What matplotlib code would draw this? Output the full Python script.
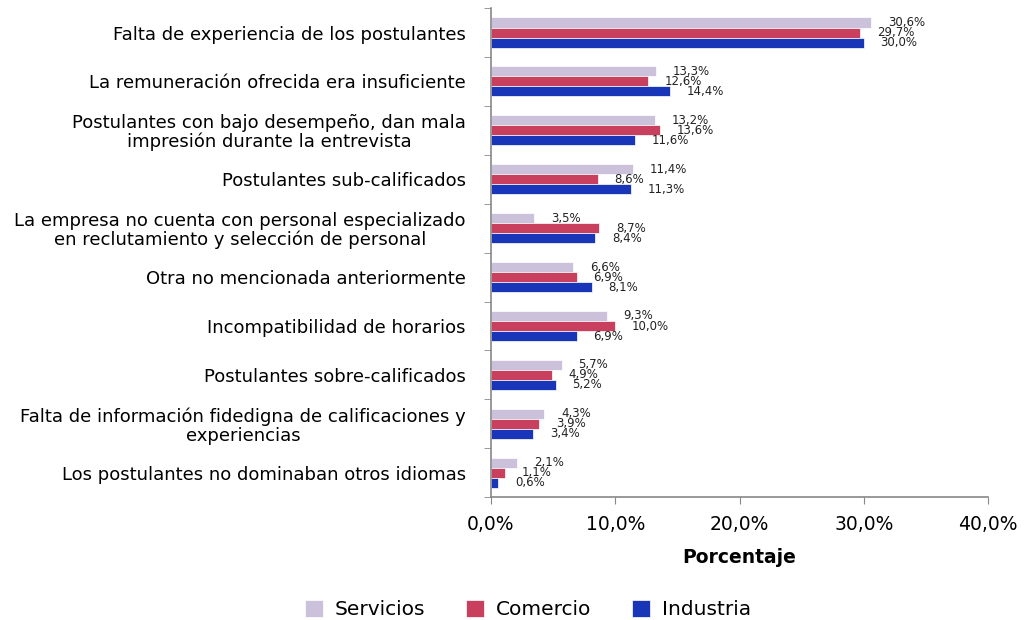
import numpy as np
import matplotlib
matplotlib.use("Agg")
import matplotlib.pyplot as plt
from matplotlib.ticker import FixedLocator, FuncFormatter

categorias = [
    "Falta de experiencia de los postulantes",
    "La remuneración ofrecida era insuficiente",
    "Postulantes con bajo desempeño, dan mala\nimpresión durante la entrevista",
    "Postulantes sub-calificados",
    "La empresa no cuenta con personal especializado\nen reclutamiento y selección de personal",
    "Otra no mencionada anteriormente",
    "Incompatibilidad de horarios",
    "Postulantes sobre-calificados",
    "Falta de información fidedigna de calificaciones y\nexperiencias",
    "Los postulantes no dominaban otros idiomas",
]
servicios = [30.6, 13.3, 13.2, 11.4, 3.5, 6.6, 9.3, 5.7, 4.3, 2.1]
comercio = [29.7, 12.6, 13.6, 8.6, 8.7, 6.9, 10.0, 4.9, 3.9, 1.1]
industria = [30.0, 14.4, 11.6, 11.3, 8.4, 8.1, 6.9, 5.2, 3.4, 0.6]
series = ["Servicios", "Comercio", "Industria"]
colores = ["#CCC1DA", "#C8405E", "#1A36B8"]

fig = plt.figure(figsize=(10.25, 6.2), dpi=100)
ax = fig.add_axes([0.479, 0.198, 0.485, 0.789])

n = len(categorias)
y = np.arange(n)[::-1].astype(float)
h = 0.205
offs = [h, 0.0, -h]

def fmt(v):
    return ("%.1f%%" % v).replace(".", ",")

for vals, off, col, name in zip([servicios, comercio, industria], offs, colores, series):
    bars = ax.barh(y + off, vals, height=h, color=col, label=name,
                   edgecolor="white", linewidth=0.5)
    for b, v in zip(bars, vals):
        ax.annotate(fmt(v), (b.get_width(), b.get_y() + b.get_height() / 2),
                    xytext=(12, 0), textcoords="offset points",
                    ha="left", va="center", fontsize=8.5, color="#222222")

ax.set_xlim(0, 40)
ax.set_ylim(-0.5, n - 0.5)
ax.set_xticks([0, 10, 20, 30, 40])
ax.xaxis.set_major_formatter(FuncFormatter(lambda v, p: ("%.1f%%" % v).replace(".", ",")))
ax.tick_params(axis="x", labelsize=13.5, length=5, color="#888888", pad=8)

ax.set_yticks(y)
ax.set_yticklabels(categorias, fontsize=13, multialignment="center", linespacing=1.05)
ax.tick_params(axis="y", which="major", length=0, pad=18)
ax.yaxis.set_minor_locator(FixedLocator(np.arange(-0.5, n, 1.0)))
ax.tick_params(axis="y", which="minor", length=5, color="#888888")

for s in ["top", "right"]:
    ax.spines[s].set_visible(False)
for s in ["left", "bottom"]:
    ax.spines[s].set_color("#888888")
    ax.spines[s].set_linewidth(1.2)

ax.set_xlabel("Porcentaje", fontsize=13.5, fontweight="bold", labelpad=10)

fig.legend(loc="lower center", bbox_to_anchor=(0.515, -0.028), ncol=3, frameon=False,
           fontsize=14.5, handlelength=0.9, handleheight=0.9, columnspacing=2.0,
           handletextpad=0.6)

fig.savefig("out.png", dpi=100)
